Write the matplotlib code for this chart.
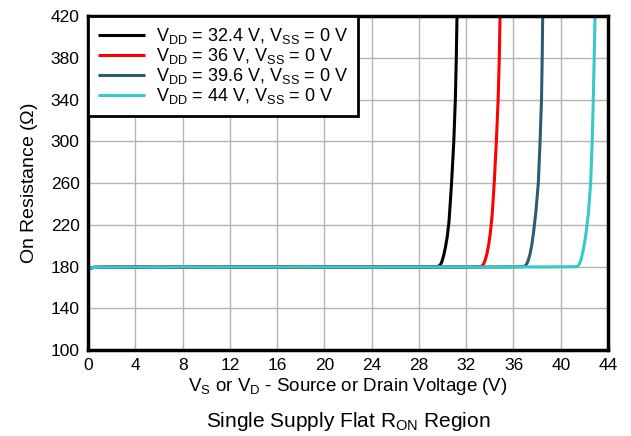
import numpy as np
import matplotlib
matplotlib.use("Agg")
import matplotlib.pyplot as plt

plt.rcParams['font.family'] = ['Liberation Sans', 'DejaVu Sans']
plt.rcParams['mathtext.fontset'] = 'custom'
plt.rcParams['mathtext.rm'] = 'Liberation Sans'
plt.rcParams['mathtext.default'] = 'regular'

# flat part shared by all supplies
flat_x = [0, 0.5, 2, 4, 6, 8, 10, 12, 14, 16, 18, 20, 22, 24, 26, 28]
flat_y = [178.0, 179.3, 179.5, 179.6, 179.4, 179.8, 179.5, 179.6, 179.7, 179.5, 179.8, 179.6, 179.7, 179.5, 179.6, 179.7]

# knee / rise parts
black_x = [29.6, 29.8, 29.95, 30.1, 30.25, 30.4, 30.55, 30.76, 30.95, 31.08, 31.16, 31.22, 31.3]
black_y = [180, 181.5, 185, 191, 199, 209, 224, 260, 300, 340, 380, 420, 470]
red_x = [30, 32, 33.25, 33.45, 33.6, 33.75, 33.9, 34.05, 34.2, 34.37, 34.55, 34.7, 34.8, 34.86, 34.95]
red_y = [179.6, 179.7, 180, 182, 186, 192, 201, 213, 230, 260, 300, 340, 380, 420, 470]
blue_x = [30, 32, 34, 36, 36.9, 37.1, 37.25, 37.4, 37.55, 37.7, 37.9, 38.1, 38.25, 38.37, 38.43, 38.47, 38.55]
blue_y = [179.6, 179.7, 179.6, 179.8, 180, 182, 186, 192, 201, 213, 233, 260, 300, 340, 380, 420, 470]
cyan_x = [30, 32, 34, 36, 38, 40, 41.4, 41.55, 41.7, 41.85, 42.0, 42.15, 42.33, 42.53, 42.66, 42.75, 42.83, 42.9, 42.97]
cyan_y = [179.6, 179.7, 179.6, 179.8, 179.7, 179.8, 180, 182, 186, 193, 202, 213, 230, 260, 300, 340, 380, 420, 470]

labels = [r'V$_{DD}$ = 32.4 V, V$_{SS}$ = 0 V',
          r'V$_{DD}$ = 36 V, V$_{SS}$ = 0 V',
          r'V$_{DD}$ = 39.6 V, V$_{SS}$ = 0 V',
          r'V$_{DD}$ = 44 V, V$_{SS}$ = 0 V']
colors = ['#000000', '#ff0000', '#2d5b73', '#35c9c9']

fig = plt.figure(figsize=(6.31, 4.36), dpi=100)
ax = fig.add_axes([0.1395, 0.197, 0.8241, 0.766])

series = [(black_x, black_y), (red_x, red_y), (blue_x, blue_y), (cyan_x, cyan_y)]
for (sx, sy), c, lab in zip(series, colors, labels):
    xs = flat_x + sx
    ys = flat_y + sy
    ax.plot(xs, ys, color=c, lw=2.2, label=lab, solid_capstyle='butt')

ax.set_xlim(0, 44)
ax.set_ylim(100, 420)
ax.set_xticks(np.arange(0, 45, 4))
ax.set_yticks(np.arange(100, 421, 40))
ax.tick_params(length=0, labelsize=12.5, pad=6)
ax.grid(True, color='#b4b4b4', lw=1.0)
for s in ax.spines.values():
    s.set_linewidth(2.5)
    s.set_color('black')

ax.set_xlabel(r'V$_S$ or V$_D$ - Source or Drain Voltage (V)', fontsize=13.5, labelpad=2)
ax.set_ylabel(r'On Resistance ($\Omega$)', fontsize=14, labelpad=8)

leg = ax.legend(loc='upper left', fontsize=13, frameon=True, fancybox=False,
                borderaxespad=0, handlelength=2.6, labelspacing=0.0,
                borderpad=0.55, handletextpad=0.6)
leg.get_frame().set_edgecolor('black')
leg.get_frame().set_linewidth(2)
leg.get_frame().set_alpha(1)

# caption centred under the axes
fig.text(0.1395 + 0.8241 / 2, 0.033, r'Single Supply Flat R$_{ON}$ Region',
         ha='center', va='center', fontsize=15)

fig.savefig('out.png', dpi=100)
